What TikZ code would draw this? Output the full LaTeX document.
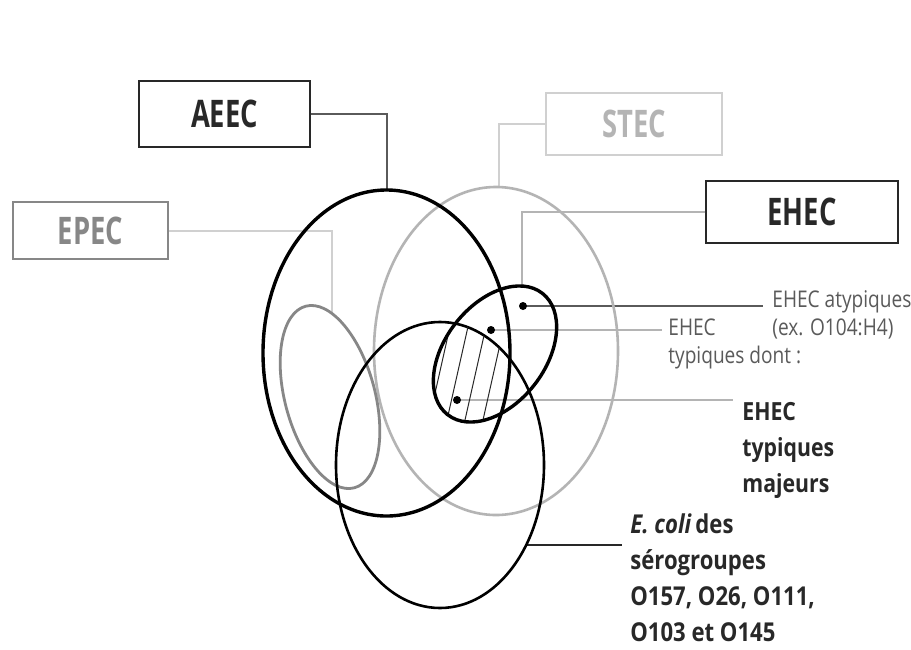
\documentclass[tikz,border=0pt]{standalone}
\usepackage{fontspec}
\setmainfont{Open Sans}
\newfontfamily\boxfont{Open Sans}[FakeStretch=0.72]
\newfontfamily\notefont{Open Sans}[FakeStretch=0.83]
\newfontfamily\strongfont{Open Sans}[FakeStretch=0.85]
\usepackage{tikz}
\definecolor{ink}{RGB}{40,40,40}
\definecolor{dim}{RGB}{90,90,90}
\definecolor{mid}{RGB}{135,135,135}
\definecolor{pale}{RGB}{180,180,180}
\definecolor{faint}{RGB}{208,208,208}

\begin{document}
\begin{tikzpicture}[x=0.5pt, y=-0.5pt,
  box/.style={rectangle, draw=ink, line width=0.75pt, inner sep=0pt,
              font=\boxfont\bfseries\fontsize{19}{22}\selectfont, text=ink},
  note/.style={inner sep=0pt, align=left, anchor=north west, text=dim,
               font=\notefont\fontsize{11.5}{14}\selectfont},
  strong/.style={inner sep=0pt, align=left, anchor=north west, text=ink,
                 font=\strongfont\bfseries\fontsize{12.5}{18}\selectfont},
  dot/.style={circle, fill=black, inner sep=0pt, minimum size=4pt},
  link/.style={line width=0.7pt},
  hatch/.style={line width=0.5pt, draw=ink}]
  \fill[white] (0,0) rectangle (911,649);
  \useasboundingbox (0,0) rectangle (911,649);

  % category boxes
  \node[box, minimum width=85.5pt, minimum height=33pt] (aeec) at (224.5,114) {AEEC};
  \node[box, draw=mid, text=mid, minimum width=77.5pt, minimum height=28.5pt] (epec) at (90.5,230.5) {EPEC};
  \node[box, draw=faint, text=pale, minimum width=88pt, minimum height=31pt] (stec) at (634,124) {STEC};
  \node[box, minimum width=96pt, minimum height=31pt] (ehec) at (802,212) {EHEC};

  % where the boxes meet their sets
  \coordinate (aeectop) at (387,190);
  \coordinate (epectop) at (332,313.5);
  \coordinate (stectop) at (499,187);
  \coordinate (ehectop) at (522,286);
  \draw[link, dim] (aeec.east) -| (aeectop);
  \draw[link, faint, line width=1pt] (epec.east) -| (epectop);
  \draw[link, faint] (stec.west) -| (stectop);
  \draw[link, pale] (ehec.west) -| (ehectop);

  % leader lines
  \coordinate (patyp) at (523,306);
  \coordinate (ptyp) at (491,330);
  \coordinate (pmaj) at (457,400);
  \coordinate (atypend) at (763,306);
  \coordinate (typend) at (662,330);
  \coordinate (majend) at (733,400);
  \coordinate (colistart) at (526,545);
  \coordinate (coliend) at (622,545);
  \draw[link, dim] (patyp) -- (atypend);
  \draw[pale, line width=1.4pt] (ptyp) -- (typend);
  \draw[pale, line width=1.4pt] (pmaj) -- (majend);
  \draw[link, ink, line width=0.8pt] (colistart) -- (coliend);

  % the sets
  \draw[pale, line width=1.3pt] (496,351) ellipse [x radius=122, y radius=164];
  \draw[mid, line width=1.4pt, rotate around={15:(330,397)}] (330,397) ellipse [x radius=45, y radius=94];
  \draw[black, line width=1.7pt] (386.5,353) ellipse [x radius=123.5, y radius=163];
  \draw[black, line width=1.3pt] (440,465) ellipse [x radius=104, y radius=143];
  \begin{scope}
    \clip[rotate around={-38:(495,354)}] (495,354) ellipse [x radius=50, y radius=77];
    \clip (440,465) ellipse [x radius=104, y radius=143];
    \clip (386.5,353) ellipse [x radius=123.5, y radius=163];
    \foreach \k in {-2,...,5}
      \draw[hatch] ({420+18*\k},460) -- ({456+18*\k},300);
  \end{scope}
  \draw[black, line width=1.7pt, rotate around={-38:(495,354)}] (495,354) ellipse [x radius=50, y radius=77];

  \node[dot] (datyp) at (patyp) {};
  \node[dot] (dtyp) at (ptyp) {};
  \node[dot] (dmaj) at (pmaj) {};

  % labels
  \node[note] (atyp) at (772,290) {EHEC atypiques\\(ex. O104:H4)};
  \node[note] (typ) at (668,318.5) {EHEC\\typiques dont :};
  \node[strong] (maj) at (742,402) {EHEC\\typiques\\majeurs};
  \node[strong, font=\strongfont\bfseries\fontsize{13}{18}\selectfont] (coli) at (630,513)
    {{\itshape E.~coli}\,des\\sérogroupes\\O157, O26, O111,\\O103 et O145};
\end{tikzpicture}
\end{document}
